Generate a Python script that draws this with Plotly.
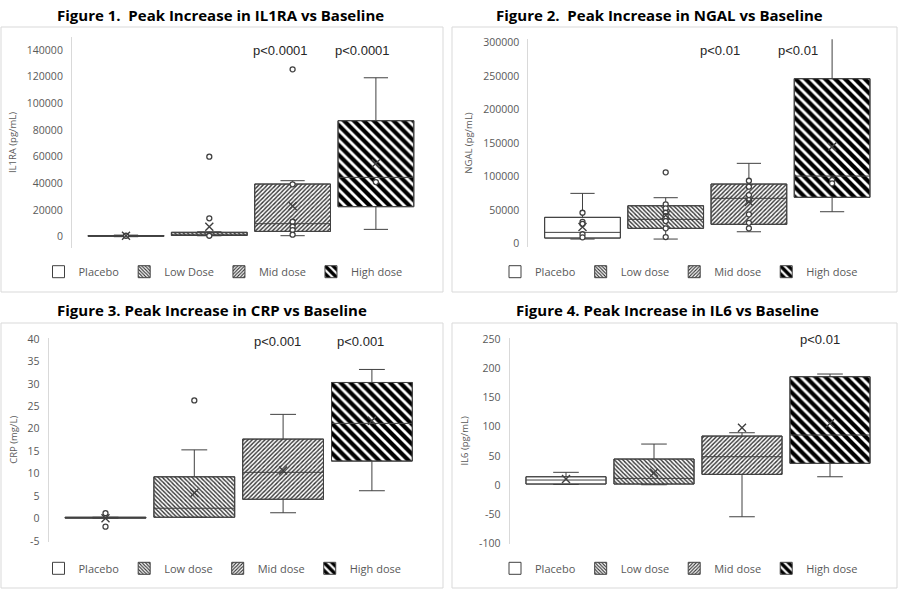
import plotly.graph_objects as go

W, H = 899, 590

# ---------------- DATA ----------------
groups_1 = ["Placebo", "Low Dose", "Mid dose", "High dose"]
groups = ["Placebo", "Low dose", "Mid dose", "High dose"]

# Figure 1: IL1RA (pg/mL)
il1ra_q1 = [300, 900, 4000, 22500]
il1ra_median = [600, 1800, 9750, 44500]
il1ra_q3 = [900, 3300, 39500, 87000]
il1ra_lower = [0, 700, 750, 5500]
il1ra_upper = [1200, 3700, 42000, 119200]
il1ra_mean = [700, 7500, 23000, 55000]
il1ra_points = [[700], [60000, 13800, 700], [125500, 39300, 11200, 7500, 5000, 1500], [41000]]

# Figure 2: NGAL (pg/mL)
ngal_q1 = [7900, 22400, 28400, 68700]
ngal_median = [16400, 35800, 67200, 100400]
ngal_q3 = [38800, 56100, 88500, 245700]
ngal_lower = [6400, 6400, 17300, 47200]
ngal_upper = [74600, 68100, 119400, 330000]
ngal_mean = [24500, 42000, 62100, 144000]
ngal_points = [[45700, 32000, 29000, 13600, 9000],
               [106000, 58200, 52200, 45700, 40700, 33300, 22400, 9400],
               [93400, 84500, 72100, 64600, 43300, 30700, 22400],
               [94500, 89500]]

# Figure 3: CRP (mg/L)
crp_q1 = [0.1, 0.3, 4.3, 12.8]
crp_median = [0.2, 2.3, 10.3, 21.2]
crp_q3 = [0.3, 9.3, 17.7, 30.3]
crp_lower = [0.1, 0.3, 1.3, 6.2]
crp_upper = [0.3, 15.3, 23.2, 33.2]
crp_mean = [0.1, 5.7, 10.7, 21.8]
crp_points = [[1.2, -1.8], [26.3], [], []]

# Figure 4: IL6 (pg/mL)
il6_q1 = [1.7, 1.7, 18.3, 37.2]
il6_median = [8.6, 11.4, 48.6, 85.8]
il6_q3 = [14.2, 44.6, 84.0, 185.8]
il6_lower = [1.0, 0.5, -54.4, 14.2]
il6_upper = [21.8, 70.3, 89.7, 190.4]
il6_mean = [10.3, 21.1, 98.3, 105.8]
il6_points = [[], [], [], []]

titles = ["Figure 1.\u00a0 Peak Increase in IL1RA vs Baseline",
          "Figure 2.\u00a0 Peak Increase in NGAL vs Baseline",
          "Figure 3. Peak Increase in CRP vs Baseline",
          "Figure 4. Peak Increase in IL6 vs Baseline"]
ytitles = ["IL1RA (pg/mL)", "NGAL (pg/mL)", "CRP (mg/L)", "IL6 (pg/mL)"]
yticks = [[0, 20000, 40000, 60000, 80000, 100000, 120000, 140000],
          [0, 50000, 100000, 150000, 200000, 250000, 300000],
          [-5, 0, 5, 10, 15, 20, 25, 30, 35, 40],
          [-100, -50, 0, 50, 100, 150, 200, 250]]
yranges = [[-8700, 150000], [-5000, 304500], [-5.1, 40.2], [-100.8, 252.2]]
pvals = [[("p<0.0001", 1.855, 140000), ("p<0.0001", 2.845, 140000)],
         [("p<0.01", 1.653, 288500), ("p<0.01", 2.59, 288500)],
         [("p<0.001", 1.937, 39.5), ("p<0.001", 2.866, 39.5)],
         [("p<0.01", 2.886, 248.8)]]

panels = [
    dict(q1=il1ra_q1, med=il1ra_median, q3=il1ra_q3, lo=il1ra_lower, hi=il1ra_upper, mean=il1ra_mean, pts=il1ra_points, names=groups_1),
    dict(q1=ngal_q1, med=ngal_median, q3=ngal_q3, lo=ngal_lower, hi=ngal_upper, mean=ngal_mean, pts=ngal_points, names=groups),
    dict(q1=crp_q1, med=crp_median, q3=crp_q3, lo=crp_lower, hi=crp_upper, mean=crp_mean, pts=crp_points, names=groups),
    dict(q1=il6_q1, med=il6_median, q3=il6_q3, lo=il6_lower, hi=il6_upper, mean=il6_mean, pts=il6_points, names=groups),
]

# ---------------- LAYOUT GEOMETRY (pixels) ----------------
geom = [
    dict(left=72, right=430, c0=126, sp=83.3, top=36.7, bot=248.3),
    dict(left=528.3, right=885, c0=582.5, sp=83.2, top=39.3, bot=246.7),
    dict(left=48.5, right=432, c0=105.5, sp=88.8, top=338, bot=541.5),
    dict(left=509.5, right=885, c0=566, sp=88.0, top=338, bot=543.8),
]
frames = [(1, 27, 443, 292), (452, 27, 897, 292), (1, 323, 443, 588), (452, 323, 897, 588)]
title_pos = [(220, 15.5), (659, 15.5), (211.5, 310), (667.5, 310)]
legend_pos = [(223, 271.7), (679, 271.7), (222.5, 568.3), (679, 568.3)]

patterns = [
    dict(shape="", fgcolor="#404040", bgcolor="white"),
    dict(shape="\\", size=3, solidity=0.45, fgcolor="#333333", bgcolor="white", fgopacity=1),
    dict(shape="/", size=3, solidity=0.45, fgcolor="#333333", bgcolor="white", fgopacity=1),
    dict(shape="\\", size=7, solidity=0.6, fgcolor="#000000", bgcolor="white", fgopacity=1),
]

LINE = "#404040"
TXT = "#595959"
BOXW = 0.91

fig = go.Figure()
layout = dict(
    width=W, height=H, margin=dict(l=0, r=0, t=0, b=0, autoexpand=False),
    paper_bgcolor="white", plot_bgcolor="white",
    barmode="overlay", boxmode="overlay",
    shapes=[], annotations=[],
)

for p, (pan, g) in enumerate(zip(panels, geom)):
    n = "" if p == 0 else str(p + 1)
    xa, ya = "x" + n, "y" + n
    leg = "legend" + n
    r0 = (g["left"] - g["c0"]) / g["sp"]
    r1 = (g["right"] - g["c0"]) / g["sp"]
    layout["xaxis" + n] = dict(domain=[g["left"] / W, g["right"] / W], range=[r0, r1],
                               visible=False, anchor=ya)
    layout["yaxis" + n] = dict(domain=[1 - g["bot"] / H, 1 - g["top"] / H], range=yranges[p],
                               anchor=xa, showline=True, linecolor="#d9d9d9", linewidth=1,
                               showgrid=False, zeroline=False, ticks="",
                               tickvals=yticks[p], ticktext=[str(v) for v in yticks[p]],
                               ticklabelstandoff=6, automargin=False,
                               tickfont=dict(family="Open Sans", size=10.5, color=TXT),
                               title=dict(text=ytitles[p], standoff=8,
                                          font=dict(family="Open Sans", size=9.5, color=TXT)))
    for i in range(4):
        fig.add_trace(go.Bar(
            x=[i], base=[pan["q1"][i]], y=[pan["q3"][i] - pan["q1"][i]], width=BOXW,
            name=pan["names"][i], legend=leg, xaxis=xa, yaxis=ya, hoverinfo="skip",
            marker=dict(color="white", opacity=1, line=dict(color=LINE, width=1), pattern=patterns[i]),
        ))
    for i in range(4):
        fig.add_trace(go.Box(
            x=[i], q1=[pan["q1"][i]], median=[pan["med"][i]], q3=[pan["q3"][i]],
            lowerfence=[pan["lo"][i]], upperfence=[pan["hi"][i]],
            width=BOXW, whiskerwidth=0.32, fillcolor="rgba(0,0,0,0)",
            line=dict(color=LINE, width=1), boxpoints=False, showlegend=False,
            xaxis=xa, yaxis=ya, hoverinfo="skip",
        ))
    px, py = [], []
    for i in range(4):
        px += [i] * len(pan["pts"][i])
        py += pan["pts"][i]
    if px:
        fig.add_trace(go.Scatter(
            x=px, y=py, mode="markers", showlegend=False, xaxis=xa, yaxis=ya, hoverinfo="skip",
            marker=dict(symbol="circle", size=5, color="white", line=dict(color=LINE, width=1.3)),
        ))
    fig.add_trace(go.Scatter(
        x=list(range(4)), y=pan["mean"], mode="markers", showlegend=False,
        xaxis=xa, yaxis=ya, hoverinfo="skip",
        marker=dict(symbol="x-thin", size=8, color=LINE, line=dict(color=LINE, width=1.4)),
    ))
    for (t, xv, yv) in pvals[p]:
        layout["annotations"].append(dict(
            text=t, x=xv, y=yv, xref=xa, yref=ya, showarrow=False,
            font=dict(family="Liberation Sans", size=13, color="#262626")))
    fx0, fy0, fx1, fy1 = frames[p]
    layout["shapes"].append(dict(type="rect", xref="paper", yref="paper",
                                 x0=fx0 / W, x1=fx1 / W, y0=1 - fy1 / H, y1=1 - fy0 / H,
                                 line=dict(color="#d9d9d9", width=1), layer="below"))
    tx, ty = title_pos[p]
    layout["annotations"].append(dict(
        text="<b>" + titles[p] + "</b>", x=tx / W, y=1 - ty / H, xref="paper", yref="paper",
        showarrow=False, xanchor="center", yanchor="middle",
        font=dict(family="Open Sans", size=15, color="black")))
    lx, ly = legend_pos[p]
    layout[leg] = dict(orientation="h", x=lx / W, y=1 - ly / H, xanchor="center", yanchor="middle",
                       font=dict(family="Open Sans", size=11, color=TXT), bgcolor="rgba(0,0,0,0)",
                       itemwidth=30, traceorder="normal")

fig.update_layout(**layout)
fig.write_html("out.html")
